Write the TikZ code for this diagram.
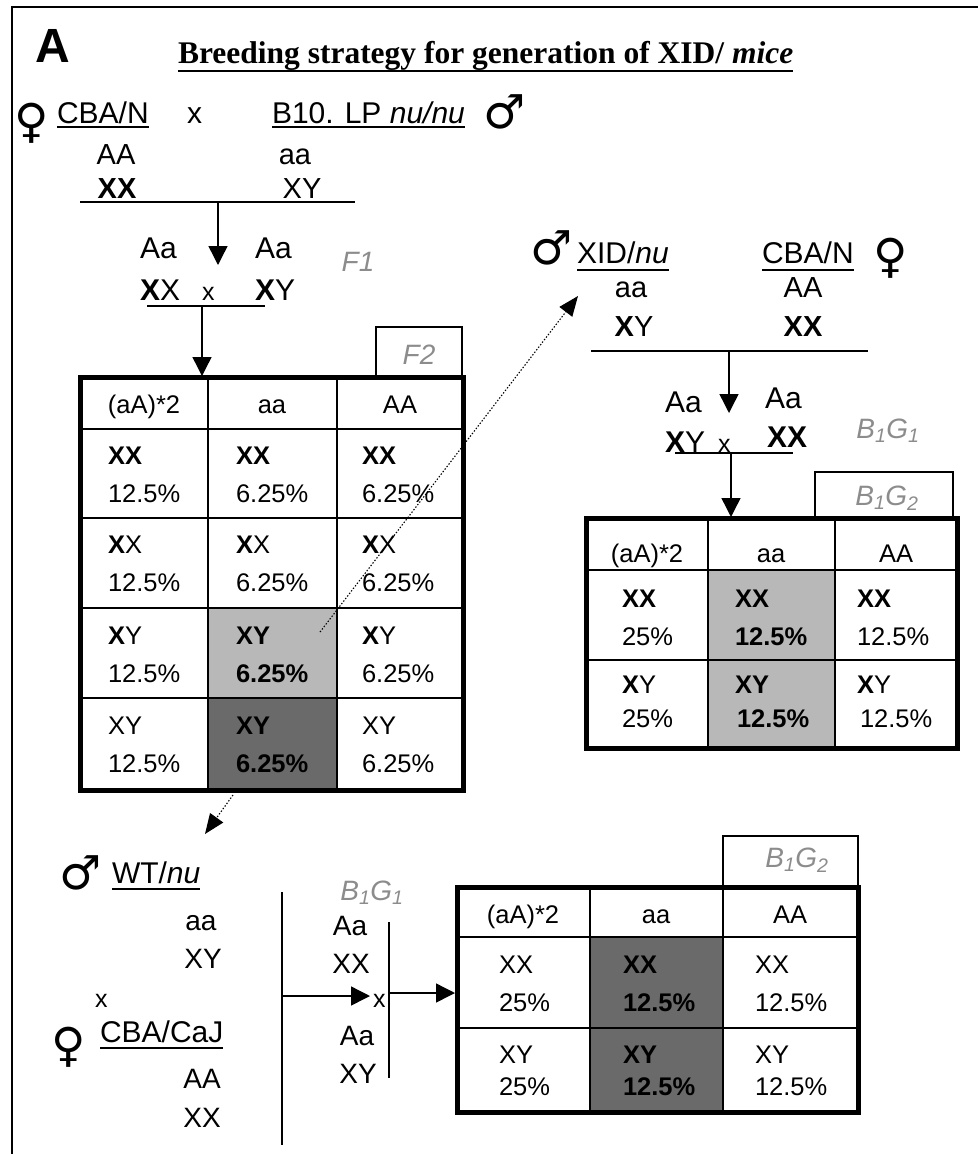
\documentclass[tikz,border=0pt]{standalone}
\usepackage{fontspec}
\setmainfont{Liberation Sans}
\newfontfamily\serifT{Liberation Serif}
\newfontfamily\symf{DejaVu Sans}
\usetikzlibrary{arrows.meta}
\definecolor{lblgray}{HTML}{8C8C8C}
\definecolor{shadeL}{HTML}{B8B8B8}
\definecolor{shadeD}{HTML}{6A6A6A}
\newcommand\gcell[5]{%
  \node[tt, anchor=base west] (#1g) at (#2,#3) {#4};
  \node[tt, anchor=base west] (#1p) at (#2,#3+38) {#5};}
\begin{document}
\begin{tikzpicture}[x=1pt,y=-1pt,
  every node/.style={inner sep=0pt, outer sep=0pt},
  lbl/.style={font=\fontsize{30}{34}\selectfont, anchor=base west},
  smx/.style={font=\fontsize{25}{28}\selectfont, anchor=base west},
  gen/.style={font=\fontsize{29}{32}\selectfont, anchor=base},
  genb/.style={font=\fontsize{28}{32}\selectfont, anchor=base},
  tt/.style={font=\fontsize{25.5}{28}\selectfont},
  hd/.style={font=\fontsize{25.5}{28}\selectfont, anchor=base},
  gtag/.style={font=\fontsize{28}{30}\selectfont\itshape, text=lblgray, anchor=base},
  sym/.style={font=\symf\fontsize{47}{50}\selectfont},
  ul/.style={line width=1.3pt},
  cross/.style={line width=1.4pt},
  arr/.style={line width=1.4pt, -{Triangle[length=19pt,width=19pt]}},
  dotarr/.style={line width=1.1pt, dash pattern=on 1.4pt off 1.8pt, -{Triangle[length=20pt,width=16pt]}},
  outer/.style={line width=5pt},
  gridl/.style={line width=2pt},
  tagbox/.style={draw, line width=1.3pt}
]
\useasboundingbox (0,0) rectangle (978,1154);
% frame
\draw[line width=1.2pt] (12,1154) -- (12,7) -- (978,7);
\node[font=\fontsize{48}{52}\selectfont\bfseries, anchor=base west] (lblA) at (35,62) {A};
\node[font=\serifT\fontsize{31.5}{34}\selectfont\bfseries, anchor=base west] (title) at (178,63) {Breeding strategy for generation of XID/ \textit{mice}};
\draw[ul] ([yshift=-8pt]title.base west) -- ([yshift=-8pt]title.base east);

% ---------- first cross ----------
\node[sym] (fem1) at (32,123) {♀};
\node[lbl] (cban) at (57,123) {CBA/N};
\draw[ul] ([yshift=-4pt]cban.base west) -- ([yshift=-4pt]cban.base east);
\node[lbl] (x1) at (187,123) {x};
\node[lbl] (b10) at (272,123) {B10. LP \textit{nu/nu}};
\draw[ul] ([yshift=-4pt]b10.base west) -- ([yshift=-4pt]b10.base east);
\node[sym] (male1) at (505,112) {♂};
\node[gen] (g1) at (116,164) {AA};
\node[gen] (g2) at (295,164) {aa};
\node[gen] (g3) at (117,198) {\textbf{XX}};
\node[gen] (g4) at (302,198) {XY};
\coordinate (l1a) at (80,202); \coordinate (l1b) at (355,202);
\draw[cross] (l1a) -- (l1b);
\coordinate (a1s) at (218,202); \coordinate (a1e) at (218,265);
\draw[arr] (a1s) -- (a1e);

% F1
\node[lbl] (f1a) at (140,258) {Aa};
\node[lbl] (f1b) at (255,258) {Aa};
\node[gtag] (tF1) at (358,271) {F1};
\node[lbl] (f1c) at (140,300) {\textbf{X}X};
\node[smx] (x2) at (202,300) {x};
\node[lbl] (f1d) at (255,300) {\textbf{X}Y};
\coordinate (l2a) at (147,306); \coordinate (l2b) at (265,306);
\draw[cross] (l2a) -- (l2b);
\coordinate (a2s) at (202,306); \coordinate (a2e) at (202,376);
\draw[arr] (a2s) -- (a2e);

% ---------- F2 table ----------
\draw[tagbox] (376,377) rectangle (462,327);
\node[gtag] (tF2) at (419,364) {F2};
\fill[shadeL] (208,608) rectangle (337,698);
\fill[shadeD] (208,698) rectangle (337,790);
\draw[gridl] (208,377) -- (208,790) (337,377) -- (337,790)
  (80,429) -- (463,429) (80,518) -- (463,518) (80,608) -- (463,608) (80,698) -- (463,698);
\draw[outer] (80,377) rectangle (463,790);
\node[hd] (f2h1) at (144,413) {(aA)*2};
\node[hd] (f2h2) at (272,413) {aa};
\node[hd] (f2h3) at (400,413) {AA};
\gcell{f2a1}{108}{464}{\textbf{XX}}{12.5\%}
\gcell{f2a2}{236}{464}{\textbf{XX}}{6.25\%}
\gcell{f2a3}{362}{464}{\textbf{XX}}{6.25\%}
\gcell{f2b1}{108}{553}{\textbf{X}X}{12.5\%}
\gcell{f2b2}{236}{553}{\textbf{X}X}{6.25\%}
\gcell{f2b3}{362}{553}{\textbf{X}X}{6.25\%}
\gcell{f2c1}{108}{644}{\textbf{X}Y}{12.5\%}
\gcell{f2c2}{236}{644}{\textbf{XY}}{\textbf{6.25\%}}
\gcell{f2c3}{362}{644}{\textbf{X}Y}{6.25\%}
\gcell{f2d1}{108}{734}{XY}{12.5\%}
\gcell{f2d2}{236}{734}{\textbf{XY}}{\textbf{6.25\%}}
\gcell{f2d3}{362}{734}{XY}{6.25\%}

% ---------- second cross ----------
\node[sym] (male2) at (552,248) {♂};
\node[lbl] (xid) at (577,263) {XID/\textit{nu}};
\draw[ul] ([yshift=-7pt]xid.base west) -- ([yshift=-7pt]xid.base east);
\node[lbl] (cban2) at (762,263) {CBA/N};
\draw[ul] ([yshift=-7pt]cban2.base west) -- ([yshift=-7pt]cban2.base east);
\node[sym] (fem2) at (891,258) {♀};
\node[gen] (r1) at (631,297) {aa};
\node[gen] (r2) at (803,297) {AA};
\node[gen] (r3) at (634,336) {\textbf{X}Y};
\node[gen] (r4) at (803,336) {\textbf{XX}};
\coordinate (l3a) at (591,351); \coordinate (l3b) at (868,351);
\draw[cross] (l3a) -- (l3b);
\coordinate (a3s) at (729,351); \coordinate (a3e) at (729,413);
\draw[arr] (a3s) -- (a3e);
\node[lbl] (r5) at (665,412) {Aa};
\node[lbl] (r6) at (765,408) {Aa};
\node[lbl] (r7) at (665,452) {\textbf{X}Y};
\node[smx] (x3) at (718,452) {x};
\node[lbl] (r8) at (767,447) {\textbf{XX}};
\node[gtag] (tB1G1a) at (888,438) {B\textsubscript{1}G\textsubscript{1}};
\coordinate (l4a) at (675,453); \coordinate (l4b) at (793,453);
\draw[cross] (l4a) -- (l4b);
\coordinate (a4s) at (731,453); \coordinate (a4e) at (731,517);
\draw[arr] (a4s) -- (a4e);

% ---------- right table ----------
\draw[tagbox] (815,518) rectangle (953,472);
\node[gtag] (tB1G2a) at (887,505) {B\textsubscript{1}G\textsubscript{2}};
\fill[shadeL] (708,570) rectangle (835,748);
\draw[gridl] (708,518) -- (708,748) (835,518) -- (835,748)
  (586,570) -- (957,570) (586,660) -- (957,660);
\draw[outer] (586,518) rectangle (957,748);
\node[hd] (rth1) at (647,562) {(aA)*2};
\node[hd] (rth2) at (771,562) {aa};
\node[hd] (rth3) at (896,562) {AA};
\gcell{rta1}{622}{607}{\textbf{XX}}{25\%}
\gcell{rta2}{735}{607}{\textbf{XX}}{\textbf{12.5\%}}
\gcell{rta3}{857}{607}{\textbf{XX}}{12.5\%}
\node[tt, anchor=base west] (rtb1g) at (622,693) {\textbf{X}Y};
\node[tt, anchor=base west] (rtb1p) at (622,727) {25\%};
\node[tt, anchor=base west] (rtb2g) at (735,693) {\textbf{XY}};
\node[tt, anchor=base west] (rtb2p) at (737,727) {\textbf{12.5\%}};
\node[tt, anchor=base west] (rtb3g) at (857,693) {\textbf{X}Y};
\node[tt, anchor=base west] (rtb3p) at (860,727) {12.5\%};

% ---------- dotted arrows ----------
\coordinate (d1s) at (320,632); \coordinate (d1e) at (578,296);
\draw[dotarr] (d1s) -- (d1e);
\coordinate (d2s) at (233,795); \coordinate (d2e) at (205,834);
\draw[dotarr] (d2s) -- (d2e);

% ---------- bottom cross ----------
\node[sym] (male3) at (81,873) {♂};
\node[lbl] (wt) at (112,883) {WT/\textit{nu}};
\draw[ul] ([yshift=-6pt]wt.base west) -- ([yshift=-6pt]wt.base east);
\node[genb] (b1) at (201,930) {aa};
\node[genb] (b2) at (203,968) {XY};
\node[smx] (x4) at (95,1007) {x};
\node[sym] (fem3) at (69,1047) {♀};
\node[lbl] (cbacaj) at (100,1042) {CBA/CaJ};
\draw[ul] ([yshift=-6pt]cbacaj.base west) -- ([yshift=-6pt]cbacaj.base east);
\node[genb] (b3) at (202,1088) {AA};
\node[genb] (b4) at (202,1127) {XX};
\coordinate (v1a) at (282,892); \coordinate (v1b) at (282,1145);
\draw[cross] (v1a) -- (v1b);
\coordinate (a5s) at (282,996); \coordinate (a5e) at (370,996);
\draw[arr] (a5s) -- (a5e);
\node[smx] (x5) at (373,1007) {x};
\coordinate (v2a) at (389,922); \coordinate (v2b) at (389,1078);
\draw[cross] (v2a) -- (v2b);
\node[genb] (b5) at (350,935) {Aa};
\node[genb] (b6) at (351,973) {XX};
\node[genb] (b7) at (357,1045) {Aa};
\node[genb] (b8) at (358,1083) {XY};
\node[gtag] (tB1G1b) at (372,900) {B\textsubscript{1}G\textsubscript{1}};
\coordinate (a6s) at (389,993); \coordinate (a6e) at (455,993);
\draw[arr] (a6s) -- (a6e);

% ---------- bottom table ----------
\draw[tagbox] (723,887) rectangle (858,836);
\node[gtag] (tB1G2b) at (797,867) {B\textsubscript{1}G\textsubscript{2}};
\fill[shadeD] (590,937) rectangle (723,1112);
\draw[gridl] (590,887) -- (590,1112) (723,887) -- (723,1112)
  (457,937) -- (858,937) (457,1028) -- (858,1028);
\draw[outer] (457,887) rectangle (858,1112);
\node[hd] (bth1) at (523,923) {(aA)*2};
\node[hd] (bth2) at (656,923) {aa};
\node[hd] (bth3) at (790,923) {AA};
\gcell{bta1}{499}{973}{XX}{25\%}
\gcell{bta2}{623}{973}{\textbf{XX}}{\textbf{12.5\%}}
\gcell{bta3}{755}{973}{XX}{12.5\%}
\node[tt, anchor=base west] (btb1g) at (499,1063) {XY};
\node[tt, anchor=base west] (btb1p) at (499,1095) {25\%};
\node[tt, anchor=base west] (btb2g) at (623,1063) {\textbf{XY}};
\node[tt, anchor=base west] (btb2p) at (623,1095) {\textbf{12.5\%}};
\node[tt, anchor=base west] (btb3g) at (755,1063) {XY};
\node[tt, anchor=base west] (btb3p) at (755,1095) {12.5\%};
\end{tikzpicture}
\end{document}
